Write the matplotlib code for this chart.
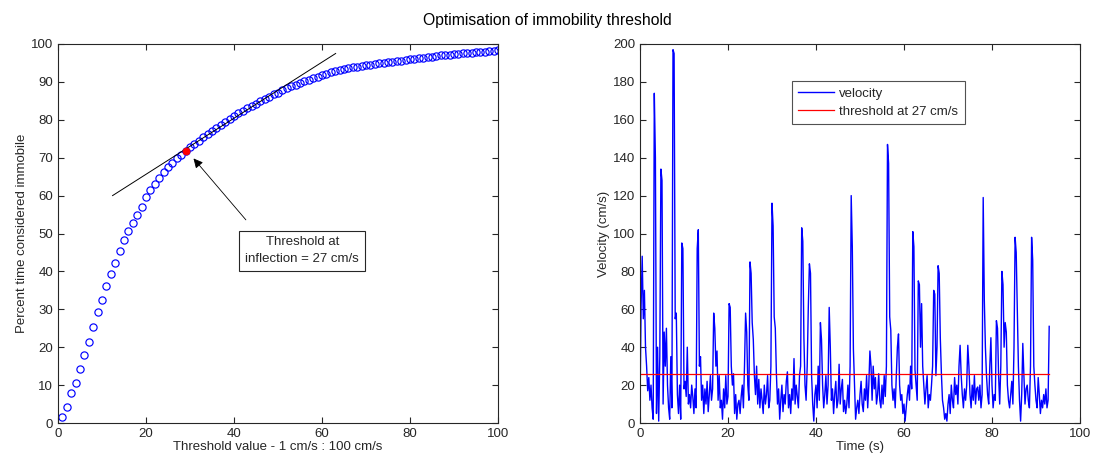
import numpy as np
import matplotlib
matplotlib.use("Agg")
import matplotlib.pyplot as plt

plt.rcParams['font.family'] = ['Liberation Sans', 'DejaVu Sans']

# ---- Left panel data: percent time immobile vs threshold ----
thresholds = list(range(1, 101))
percent_immobile = [
    1.6, 4.3, 7.8, 10.5, 14.2, 17.9, 21.5, 25.2, 29.2, 32.5,
    36.1, 39.2, 42.2, 45.5, 48.3, 50.6, 52.7, 55.0, 57.1, 59.5,
    61.5, 63.1, 64.6, 66.1, 67.6, 68.7, 69.8, 70.8, 71.7, 72.7,
    73.6, 74.5, 75.4, 76.2, 77.0, 77.9, 78.7, 79.5, 80.3, 81.0,
    81.7, 82.4, 83.0, 83.7, 84.3, 84.9, 85.5, 86.1, 86.7, 87.2,
    87.8, 88.3, 88.8, 89.3, 89.8, 90.2, 90.6, 91.0, 91.4, 91.8,
    92.2, 92.6, 92.9, 93.2, 93.4, 93.6, 93.8, 94.0, 94.2, 94.4,
    94.5, 94.7, 94.9, 95.0, 95.2, 95.3, 95.5, 95.6, 95.8, 96.0,
    96.1, 96.3, 96.4, 96.6, 96.7, 96.9, 97.0, 97.1, 97.2, 97.3,
    97.4, 97.5, 97.6, 97.7, 97.8, 97.9, 98.0, 98.1, 98.2, 98.3,
]
inflection_x = 29
inflection_y = 71.7
tangent_x = [12.4, 63.1]
tangent_y = [60.0, 97.5]
annot_text = "Threshold at\ninflection = 27 cm/s"

# ---- Right panel data: velocity trace (0.25 s samples) ----
sample_dt = 0.25
velocity = [
    8, 62, 88, 55,   70, 40, 30, 17,   24, 12, 20, 8,   2, 174, 140, 5,
    40, 1, 35, 134,  128, 10, 48, 30,  50, 20, 8, 2,    35, 8, 197, 195,
    55, 58, 15, 5,   20, 2, 95, 92,    18, 22, 14, 40,  10, 15, 8, 20,
    14, 5, 18, 8,    92, 102, 30, 35,  12, 20, 5, 18,   10, 22, 6, 15,
    25, 12, 18, 58,  50, 30, 38, 12,   25, 8, 12, 2,    18, 8, 25, 10,
    14, 63, 61, 30,  20, 26, 5, 15,    2, 10, 12, 5,    14, 20, 8, 30,
    58, 48, 20, 12,  85, 79, 53, 44,   25, 15, 30, 10,  23, 8, 18, 12,
    5, 20, 10, 15,   25, 8, 12, 30,    116, 104, 56, 50, 26, 10, 18, 2,
    12, 20, 6, 15,   10, 22, 27, 8,    15, 5, 18, 12,   34, 10, 20, 14,
    8, 25, 30, 103,  96, 45, 20, 12,   30, 61, 84, 79,  25, 10, 1, 15,
    20, 8, 30, 12,   53, 44, 20, 8,    15, 25, 10, 20,  61, 40, 12, 18,
    5, 15, 22, 8,    12, 31, 10, 18,   23, 6, 12, 5,    10, 20, 8, 30,
    120, 93, 39, 20, 2, 8, 12, 5,      15, 22, 10, 6,   18, 12, 25, 8,
    20, 38, 30, 12,  30, 18, 24, 10,   15, 26, 12, 8,   20, 10, 25, 14,
    30, 147, 137, 56, 49, 20, 12, 18,  8, 25, 40, 47,   20, 12, 15, 5,
    10, 1, 8, 15,    20, 12, 30, 18,   101, 93, 28, 20, 12, 75, 73, 40,
    63, 30, 20, 10,  18, 25, 8, 15,    12, 20, 30, 70,  68, 25, 40, 83,
    79, 45, 26, 12,  8, 2, 5, 1,       10, 15, 5, 20,   12, 8, 24, 15,
    20, 10, 30, 41,  25, 15, 8, 18,    12, 20, 41, 30,  15, 8, 20, 12,
    25, 10, 18, 19,  12, 20, 8, 15,    119, 65, 40, 25, 15, 10, 30, 45,
    20, 8, 15, 12,   54, 50, 25, 10,   30, 80, 73, 40,  53, 48, 20, 12,
    8, 15, 22, 10,   40, 98, 90, 61,   30, 12, 1, 15,   42, 25, 10, 18,
    20, 12, 8, 30,   98, 86, 30, 20,   12, 8, 24, 15,   5, 12, 8, 15,
    10, 18, 8, 12,   51,
]
threshold_value = 26
legend_labels = ["velocity", "threshold at 27 cm/s"]

text_color = '#262626'

fig = plt.figure(figsize=(10.94, 4.59), dpi=100)
fs = 9.5

def style_axes(ax):
    ax.tick_params(direction='in', length=4, top=True, right=True,
                   labelsize=fs, colors=text_color, width=0.8)
    for sp in ax.spines.values():
        sp.set_color(text_color)
        sp.set_linewidth(0.8)

# Left axes
ax1 = fig.add_axes([58/1094, 36/459, 440/1094, 379/459])
ax1.plot(thresholds, percent_immobile, 'o', markerfacecolor='none',
         markeredgecolor='#0000ff', markersize=5.2, markeredgewidth=0.85)
ax1.plot(tangent_x, tangent_y, '-', color='black', linewidth=0.7)
ax1.plot([inflection_x], [inflection_y], 'o', color='#ff0000',
         markersize=5.0, markeredgewidth=0.6)
ax1.annotate("", xy=(30.8, 69.8), xytext=(42.7, 53.6),
             arrowprops=dict(arrowstyle='-|>', color='black', lw=0.6,
                             mutation_scale=14, shrinkA=0, shrinkB=0))
ax1.text(55.5, 45.4, annot_text, ha='center', va='center', fontsize=fs,
         color=text_color, linespacing=1.55,
         bbox=dict(boxstyle='square,pad=0.45', fc='white', ec=text_color, lw=0.8))
ax1.set_xlim(0, 100)
ax1.set_ylim(0, 100)
ax1.set_xticks(range(0, 101, 20))
ax1.set_yticks(range(0, 101, 10))
ax1.set_xlabel("Threshold value - 1 cm/s : 100 cm/s", fontsize=fs,
               color=text_color, labelpad=1)
ax1.set_ylabel("Percent time considered immobile", fontsize=fs,
               color=text_color, labelpad=2)
style_axes(ax1)

# Right axes
ax2 = fig.add_axes([640/1094, 36/459, 440/1094, 379/459])
t = np.arange(len(velocity)) * sample_dt
ax2.plot(t, velocity, '-', color='#0000ff', linewidth=1.0, label=legend_labels[0])
ax2.plot([t[0], t[-1]], [threshold_value, threshold_value], '-',
         color='#ff0000', linewidth=0.9, label=legend_labels[1])
ax2.set_xlim(0, 100)
ax2.set_ylim(0, 200)
ax2.set_xticks(range(0, 101, 20))
ax2.set_yticks(range(0, 201, 20))
ax2.set_xlabel("Time (s)", fontsize=fs, color=text_color, labelpad=1)
ax2.set_ylabel("Velocity (cm/s)", fontsize=fs, color=text_color, labelpad=2)
style_axes(ax2)
leg = ax2.legend(loc='upper left', bbox_to_anchor=(0.345, 0.903),
                 fontsize=fs, frameon=True, fancybox=False, borderpad=0.5,
                 handlelength=2.7, handletextpad=0.4, labelspacing=0.45,
                 borderaxespad=0)
leg.get_frame().set_edgecolor(text_color)
leg.get_frame().set_linewidth(0.8)
for txt in leg.get_texts():
    txt.set_color(text_color)

fig.suptitle("Optimisation of immobility threshold", fontsize=11.3,
             color='black', y=1 - 20/459, va='center')

fig.savefig("out.png", dpi=100)
